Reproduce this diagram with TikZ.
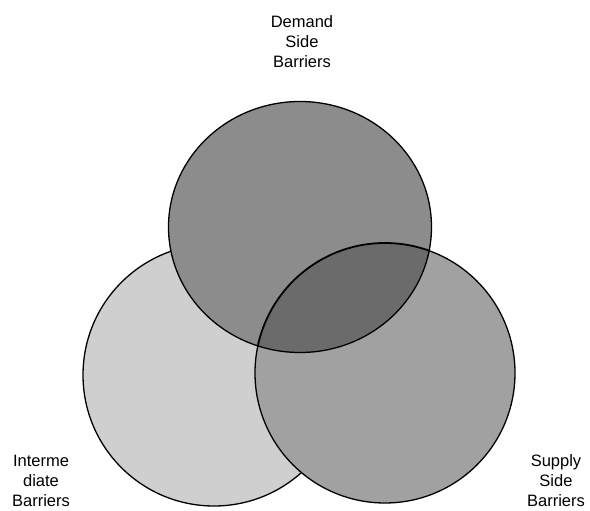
\documentclass[tikz,border=0pt]{standalone}
\usepackage{fontspec}
\setmainfont{Liberation Sans}
\begin{document}
\begin{tikzpicture}[x=1pt,y=-1pt,
  ring/.style={draw=black,line width=1.3pt},
  lbl/.style={align=center,font=\fontsize{16.5}{20}\selectfont,inner sep=0pt}]
\useasboundingbox (0,0) rectangle (590,511);
% left circle
\fill[fill=black!19] (214,375) circle (131);
\draw[ring] (214,375) circle (131);
% right circle
\fill[fill=black!37] (385,373) circle (130);
\draw[ring] (385,373) circle (130);
% top circle
\fill[fill=black!45] (300,227) ellipse (131.5 and 125.5);
% lens
\begin{scope}
  \clip (300,227) ellipse (131.5 and 125.5);
  \fill[fill=black!58] (385,373) circle (130);
  \draw[ring,line width=1.8pt] (385,373) circle (130);
\end{scope}
\draw[ring] (300,227) ellipse (131.5 and 125.5);
% labels
\node[lbl,anchor=north] (demand) at (302,15) {Demand\\Side\\Barriers};
\node[lbl,anchor=south] (inter) at (41,507) {Interme\\diate\\Barriers};
\node[lbl,anchor=south] (supply) at (556,507) {Supply\\Side\\Barriers};
\end{tikzpicture}
\end{document}
